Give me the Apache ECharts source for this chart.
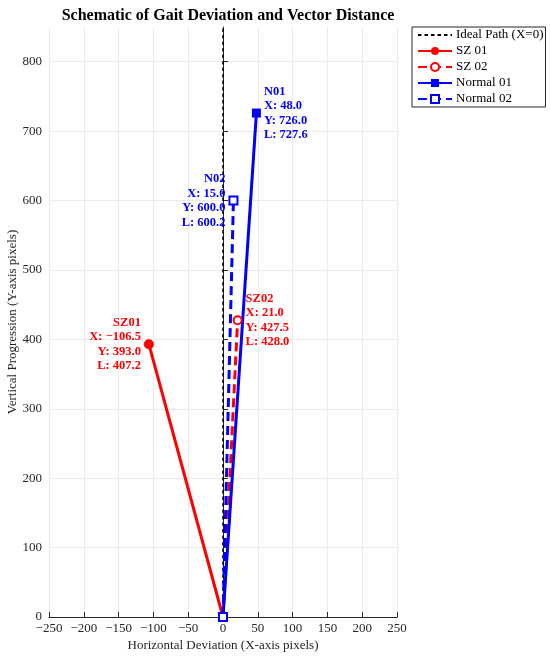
<!DOCTYPE html>
<html>
<head>
<meta charset="utf-8">
<script src="https://cdn.jsdelivr.net/npm/echarts@6/dist/echarts.min.js"></script>
<style>
  html, body { margin: 0; padding: 0; background: #fff; }
  #main { width: 550px; height: 656px; }
</style>
</head>
<body>
<div id="main"></div>
<script>
// subjects, end points and vector length
var names = ['SZ 01', 'SZ 02', 'Normal 01', 'Normal 02'];
var tags = ['SZ01', 'SZ02', 'N01', 'N02'];
var endX = [-106.5, 21.0, 48.0, 15.0];
var endY = [393.0, 427.5, 726.0, 600.0];
var lengths = [407.2, 428.0, 727.6, 600.2];
var idealX = [0, 0];
var idealY = [0, 850];

var colors = ['#ff0000', '#ff0000', '#0000ff', '#0000ff'];
var dashed = [false, true, false, true];
var symbols = ['circle', 'emptyCircle', 'rect', 'emptyRect'];
var symbolSizes = [10, 8, 9, 8];
var labelSide = ['left', 'right', 'right', 'left'];

var font = '"Liberation Serif", "Times New Roman", serif';
var axisColor = '#262626';

function minus(v) {
    return String(v).replace('-', '\u2212');
}

var series = [{
    name: 'Ideal Path (X=0)',
    type: 'line',
    data: idealX.map(function (x, i) { return [x, idealY[i]]; }),
    showSymbol: false,
    symbol: 'none',
    lineStyle: {color: '#000', width: 1.5, type: [3.5, 3]},
    itemStyle: {color: '#000'},
    silent: true
}];

names.forEach(function (name, i) {
    series.push({
        name: name,
        type: 'line',
        symbol: symbols[i],
        symbolSize: symbolSizes[i],
        showSymbol: true,
        lineStyle: {color: colors[i], width: 3, type: dashed[i] ? [9, 5] : 'solid'},
        itemStyle: {color: colors[i], borderColor: colors[i], borderWidth: dashed[i] ? 2 : 0},
        data: [
            [0, 0],
            {
                value: [endX[i], endY[i]],
                label: {
                    show: true,
                    position: labelSide[i],
                    distance: 3,
                    align: labelSide[i] === 'left' ? 'right' : 'left',
                    color: colors[i],
                    fontFamily: font,
                    fontWeight: 'bold',
                    fontSize: 12.5,
                    lineHeight: 14.5,
                    formatter: tags[i] + '\nX: ' + minus(endX[i].toFixed(1)) +
                        '\nY: ' + endY[i].toFixed(1) + '\nL: ' + lengths[i].toFixed(1)
                }
            }
        ]
    });
});

var legendData = [{name: 'Ideal Path (X=0)', itemStyle: {opacity: 0}}].concat(names.map(function (n, i) {
    return {name: n, itemStyle: {borderWidth: dashed[i] ? 1.5 : 0}};
}));

var chart = echarts.init(document.getElementById('main'));
chart.setOption({
    animation: false,
    textStyle: {fontFamily: font},
    title: {
        text: 'Schematic of Gait Deviation and Vector Distance',
        left: 223, top: 3, textAlign: 'center',
        textStyle: {fontFamily: font, fontWeight: 'bold', fontSize: 16, color: '#000'}
    },
    legend: {
        orient: 'vertical',
        left: 412, top: 27,
        padding: [1, 2, 1, 5],
        itemWidth: 34, itemHeight: 10, itemGap: 2,
        borderColor: axisColor, borderWidth: 1,
        backgroundColor: '#fff',
        textStyle: {fontFamily: font, fontSize: 13, color: '#000', lineHeight: 14, padding: [0, 0, 0, -1]},
        data: legendData
    },
    grid: {left: 49, right: 153, top: 27, bottom: 39, containLabel: false, outerBoundsMode: 'none'},
    xAxis: {
        type: 'value', min: -250, max: 250, interval: 50,
        name: 'Horizontal Deviation (X-axis pixels)',
        nameLocation: 'middle', nameGap: 22, nameMoveOverlap: false,
        nameTextStyle: {fontFamily: font, fontSize: 13, color: axisColor},
        axisLine: {show: true, lineStyle: {color: axisColor, width: 1}},
        axisTick: {show: true, inside: true, length: 5, lineStyle: {color: axisColor}},
        axisLabel: {fontFamily: font, fontSize: 13, color: axisColor, margin: 5, formatter: minus},
        splitLine: {show: true, lineStyle: {color: '#ebebeb', width: 1}}
    },
    yAxis: {
        type: 'value', min: 0, max: 850, interval: 100,
        name: 'Vertical Progression (Y-axis pixels)',
        nameLocation: 'middle', nameGap: 30, nameMoveOverlap: false,
        nameTextStyle: {fontFamily: font, fontSize: 13, color: axisColor},
        axisLine: {show: true, lineStyle: {color: axisColor, width: 1}},
        axisTick: {show: true, inside: true, length: 5, lineStyle: {color: axisColor}},
        axisLabel: {fontFamily: font, fontSize: 13, color: axisColor, margin: 7, showMaxLabel: false},
        splitLine: {show: true, showMaxLine: false, lineStyle: {color: '#ebebeb', width: 1}}
    },
    series: series
});
</script>
</body>
</html>
